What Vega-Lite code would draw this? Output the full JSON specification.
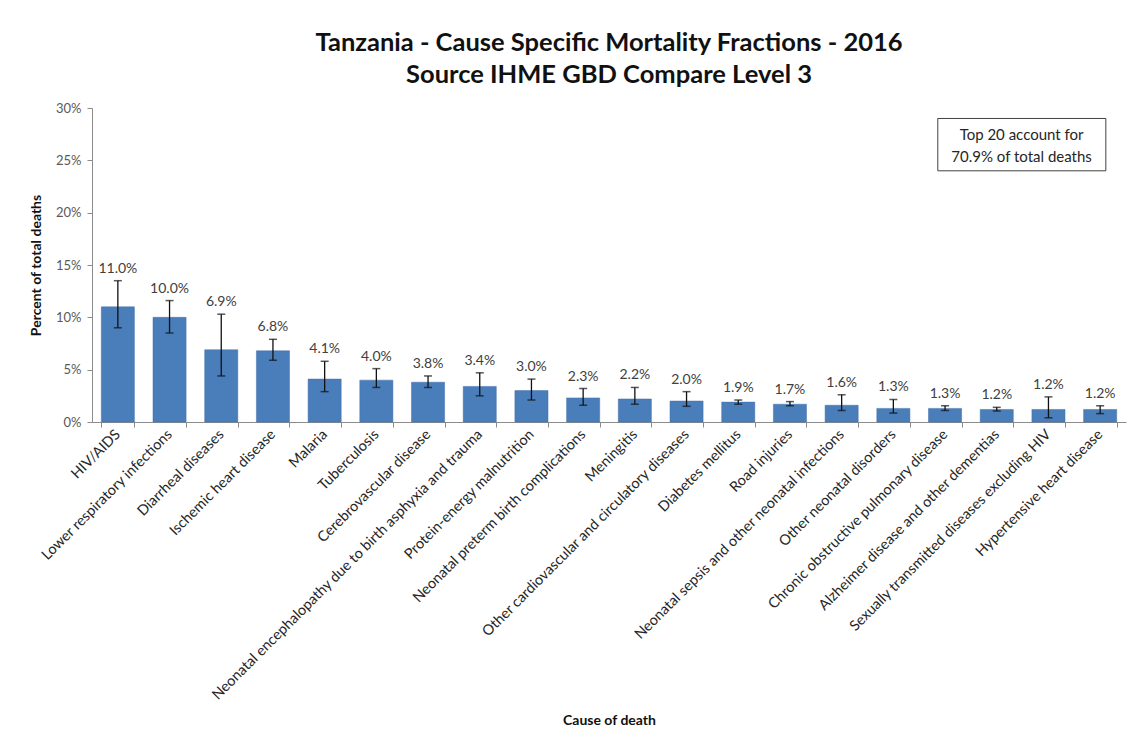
{
  "$schema": "https://vega.github.io/schema/vega-lite/v6.json",
  "width": 1034,
  "height": 314,
  "padding": {"left": 29, "top": 30, "right": 2, "bottom": 5},
  "background": "white",
  "title": {
    "text": ["Tanzania - Cause Specific Mortality Fractions - 2016", "Source IHME GBD Compare Level 3"],
    "font": "Lato",
    "fontSize": 25.5,
    "fontWeight": "bold",
    "color": "#111111",
    "lineHeight": 32,
    "anchor": "middle",
    "offset": 14
  },
  "config": {
    "view": {"stroke": null},
    "axis": {"labelFont": "Lato", "titleFont": "Lato", "domainColor": "#8c8c8c", "tickColor": "#8c8c8c", "grid": false}
  },
  "data": {"values": [
    {"cause": "HIV/AIDS", "value": 0.110, "lower": 0.090, "upper": 0.135},
    {"cause": "Lower respiratory infections", "value": 0.100, "lower": 0.085, "upper": 0.116},
    {"cause": "Diarrheal diseases", "value": 0.069, "lower": 0.044, "upper": 0.103},
    {"cause": "Ischemic heart disease", "value": 0.068, "lower": 0.059, "upper": 0.079},
    {"cause": "Malaria", "value": 0.041, "lower": 0.029, "upper": 0.058},
    {"cause": "Tuberculosis", "value": 0.040, "lower": 0.033, "upper": 0.051},
    {"cause": "Cerebrovascular disease", "value": 0.038, "lower": 0.033, "upper": 0.044},
    {"cause": "Neonatal encephalopathy due to birth asphyxia and trauma", "value": 0.034, "lower": 0.025, "upper": 0.047},
    {"cause": "Protein-energy malnutrition", "value": 0.030, "lower": 0.021, "upper": 0.041},
    {"cause": "Neonatal preterm birth complications", "value": 0.023, "lower": 0.016, "upper": 0.032},
    {"cause": "Meningitis", "value": 0.022, "lower": 0.017, "upper": 0.033},
    {"cause": "Other cardiovascular and circulatory diseases", "value": 0.020, "lower": 0.015, "upper": 0.029},
    {"cause": "Diabetes mellitus", "value": 0.019, "lower": 0.017, "upper": 0.021},
    {"cause": "Road injuries", "value": 0.017, "lower": 0.0155, "upper": 0.0195},
    {"cause": "Neonatal sepsis and other neonatal infections", "value": 0.016, "lower": 0.011, "upper": 0.026},
    {"cause": "Other neonatal disorders", "value": 0.013, "lower": 0.0085, "upper": 0.0215},
    {"cause": "Chronic obstructive pulmonary disease", "value": 0.013, "lower": 0.011, "upper": 0.0155},
    {"cause": "Alzheimer disease and other dementias", "value": 0.012, "lower": 0.0105, "upper": 0.014},
    {"cause": "Sexually transmitted diseases excluding HIV", "value": 0.012, "lower": 0.004, "upper": 0.024},
    {"cause": "Hypertensive heart disease", "value": 0.012, "lower": 0.008, "upper": 0.0155}
  ]},
  "layer": [
    {
      "layer": [
        {
          "mark": {"type": "bar", "color": "#4A7EBB", "stroke": "#3F6FA8", "strokeWidth": 0.5},
          "encoding": {
            "y": {"field": "value", "type": "quantitative", "scale": {"domain": [0, 0.3]},
              "axis": {"format": ".0%", "values": [0, 0.05, 0.1, 0.15, 0.2, 0.25, 0.3], "title": "Percent of total deaths",
                "titleFontSize": 14, "titleFontWeight": "bold", "titleColor": "#111", "titlePadding": 12,
                "labelFontSize": 13, "labelColor": "#595959", "tickSize": 5, "labelPadding": 6}}
          }
        },
        {
          "mark": {"type": "rule", "color": "#111", "strokeWidth": 1.3},
          "encoding": {"y": {"field": "lower", "type": "quantitative"}, "y2": {"field": "upper"}}
        },
        {
          "mark": {"type": "tick", "color": "#111", "size": 8, "thickness": 1.5},
          "encoding": {"y": {"field": "lower", "type": "quantitative"}}
        },
        {
          "mark": {"type": "tick", "color": "#111", "size": 8, "thickness": 1.5},
          "encoding": {"y": {"field": "upper", "type": "quantitative"}}
        },
        {
          "mark": {"type": "text", "font": "Lato", "fontSize": 14, "color": "#404040", "dy": -12},
          "encoding": {"y": {"field": "upper", "type": "quantitative"}, "text": {"field": "value", "format": ".1%"}}
        }
      ],
      "encoding": {
        "x": {"field": "cause", "type": "nominal", "sort": null,
          "scale": {"paddingInner": 0.36, "paddingOuter": 0.18},
          "axis": {"title": "Cause of death", "titleFontSize": 14, "titleFontWeight": "bold", "titleColor": "#111", "titlePadding": 91,
            "labelAngle": -45, "labelAlign": "right", "labelBaseline": "middle", "labelFontSize": 14.5, "labelColor": "#262626",
            "labelLimit": 600, "tickBand": "extent", "tickSize": 5, "labelPadding": 5}}
      }
    },
    {
      "data": {"values": [{"line1": "Top 20 account for", "line2": "70.9% of total deaths"}]},
      "layer": [
        {
          "mark": {"type": "rect", "fill": "white", "stroke": "#404040", "strokeWidth": 1},
          "encoding": {
            "x": {"datum": 16.36, "type": "quantitative", "scale": {"domain": [0, 20]}, "axis": null},
            "x2": {"datum": 19.61},
            "y": {"datum": 0.24, "type": "quantitative"},
            "y2": {"datum": 0.29}
          }
        },
        {
          "mark": {"type": "text", "font": "Lato", "fontSize": 15, "color": "#262626", "align": "center", "baseline": "middle"},
          "encoding": {
            "x": {"datum": 17.98, "type": "quantitative", "scale": {"domain": [0, 20]}, "axis": null},
            "y": {"datum": 0.2745, "type": "quantitative"},
            "text": {"field": "line1"}
          }
        },
        {
          "mark": {"type": "text", "font": "Lato", "fontSize": 15, "color": "#262626", "align": "center", "baseline": "middle"},
          "encoding": {
            "x": {"datum": 17.98, "type": "quantitative", "scale": {"domain": [0, 20]}, "axis": null},
            "y": {"datum": 0.2535, "type": "quantitative"},
            "text": {"field": "line2"}
          }
        }
      ]
    }
  ],
  "resolve": {"scale": {"x": "independent"}, "axis": {"x": "independent"}}
}
